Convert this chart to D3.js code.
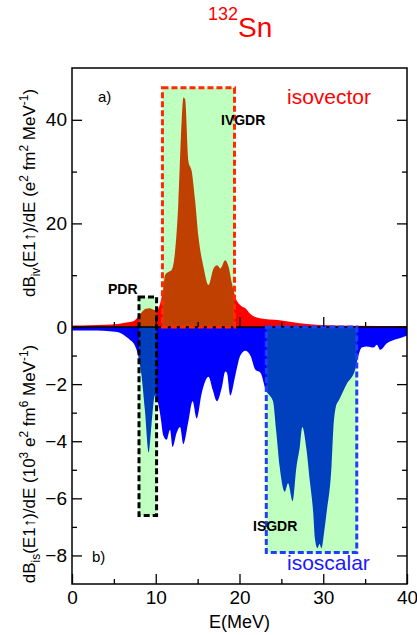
<!DOCTYPE html>
<html>
<head>
<meta charset="utf-8">
<script src="https://cdn.jsdelivr.net/npm/d3@7"></script>
<style>
  body { margin: 0; background: #fff; }
  svg { font-family: 'Liberation Sans', Arial, sans-serif; }
</style>
</head>
<body>
<svg width="417" height="635"></svg>
<script>
// isovector strength (panel a), e^2 fm^2 MeV^-1
const ivEnergy = [0, 2, 4, 5.5, 6.5, 7.3, 7.9, 8.3, 8.8, 9.3, 9.8, 10.2, 10.6, 10.9, 11.1, 11.5, 11.9,
  12.3, 12.7, 13.1, 13.3, 13.5, 13.9, 14.3, 14.7, 15.1, 15.7, 16.3, 16.9, 17.35, 17.7, 18.3, 18.7,
  19.1, 19.5, 20.1, 20.7, 21.3, 22.4, 24.8, 27.2, 29.6, 33.5, 40];
const ivStrength = [0.3, 0.35, 0.45, 0.6, 0.85, 1.1, 2.0, 2.8, 3.5, 3.6, 3.3, 3.4, 5.0, 7.5, 10, 10.6, 11,
  14.5, 24, 40, 44.3, 44, 32, 30, 24.4, 17.4, 11.6, 8.1, 11.3, 11.9, 11.3, 12.9, 11.6,
  8.4, 5.8, 4.2, 3.6, 2.5, 1.7, 1.3, 0.7, 0.4, 0.25, 0.2];

// isoscalar strength (panel b), 10^3 e^2 fm^6 MeV^-1
const isEnergy = [0, 3, 4.5, 5.7, 6.5, 6.9, 7.5, 7.9, 8.3, 8.7, 9.15, 9.5, 9.9, 10.3, 10.6, 10.9, 11.3,
  11.7, 12.0, 12.5, 12.9, 13.3, 13.9, 14.4, 14.9, 15.5, 16.3, 16.8, 17.3, 17.9, 18.3, 18.5, 18.9,
  19.5, 20.1, 20.7, 21.3, 21.9, 22.5, 23.2, 23.6, 24.0, 24.4, 24.8, 25.4, 25.8, 26.35, 26.8, 27.2,
  27.5, 28.0, 28.4, 28.8, 29.0, 29.3, 29.55, 29.8, 30.1, 30.4, 31.0, 31.2, 31.5, 31.9, 32.8, 33.8,
  34.2, 34.6, 35.2, 36.0, 36.4, 36.8, 37.6, 38.8, 39.8, 40];
const isStrength = [-0.12, -0.12, -0.15, -0.2, -0.35, -0.45, -0.65, -1.0, -1.7, -2.9, -4.4, -3.4, -2.4, -2.7, -3.2, -3.8, -3.95,
  -3.6, -4.2, -3.7, -3.5, -4.1, -3.3, -2.6, -3.2, -2.3, -1.74, -2.2, -2.6, -2.1, -1.56, -1.6, -2.4,
  -1.7, -1.0, -0.83, -1.0, -1.5, -1.6, -2.25, -2.4, -2.6, -3.7, -4.9, -5.77, -5.47, -6.1, -4.9, -4.2,
  -3.5, -4.3, -5.4, -6.5, -7.4, -7.75, -7.6, -7.75, -7.2, -6.5, -4.8, -3.6, -2.8, -2.55, -2.0, -1.5,
  -1.0, -0.72, -0.68, -0.72, -0.62, -0.8, -0.57, -0.42, -0.32, -0.3];

// highlighted resonance regions
const regionNames = ['PDR', 'IVGDR', 'ISGDR'];
const regionEmin = [8.0, 10.8, 23.2];
const regionEmax = [10.1, 19.4, 34.0];
const regionTop = [5.8, 46.2, 0];        // panel a units
const regionBottom = [-6.6, 0, -7.9];    // panel b units

const xTicks = [0, 10, 20, 30, 40];
const xMinor = [5, 15, 25, 35];
const ivTicks = [0, 20, 40];
const ivMinor = [10, 30];
const isTicks = [-2, -4, -6, -8];
const isMinor = [-1, -3, -5, -7];

const L = 72, R = 407, T = 68, Z = 327, B = 584;
const svg = d3.select('svg');

const x = d3.scaleLinear().domain([0, 40]).range([L, R]);
const yTop = d3.scaleLinear().domain([0, 50]).range([Z, T]);
const yBot = d3.scaleLinear().domain([-9, 0]).range([B, Z]);

const ivData = ivEnergy.map((e, i) => [e, ivStrength[i]]);
const isData = isEnergy.map((e, i) => [e, isStrength[i]]);

svg.append('path')
  .datum(ivData)
  .attr('fill', '#ff0000')
  .attr('d', d3.area().curve(d3.curveMonotoneX)
    .x(d => x(d[0])).y0(yTop(0)).y1(d => yTop(d[1])));

svg.append('path')
  .datum(isData)
  .attr('fill', '#0000ff')
  .attr('d', d3.area().curve(d3.curveMonotoneX)
    .x(d => x(d[0])).y0(yBot(0)).y1(d => yBot(d[1])));

// green highlight boxes (translucent, drawn over the curves)
const regionStroke = ['#000000', '#ff2a00', '#1f3fff'];
regionNames.forEach((n, i) => {
  svg.append('rect')
    .attr('x', x(regionEmin[i]))
    .attr('y', yTop(regionTop[i]))
    .attr('width', x(regionEmax[i]) - x(regionEmin[i]))
    .attr('height', yBot(regionBottom[i]) - yTop(regionTop[i]))
    .attr('fill', '#00ff00')
    .attr('fill-opacity', 0.25);
});

// zero line
svg.append('line')
  .attr('x1', L).attr('x2', R).attr('y1', Z).attr('y2', Z)
  .attr('stroke', '#000').attr('stroke-width', 1.5);

regionNames.forEach((n, i) => {
  svg.append('rect')
    .attr('x', x(regionEmin[i]))
    .attr('y', yTop(regionTop[i]))
    .attr('width', x(regionEmax[i]) - x(regionEmin[i]))
    .attr('height', yBot(regionBottom[i]) - yTop(regionTop[i]))
    .attr('fill', 'none')
    .attr('stroke', regionStroke[i])
    .attr('stroke-width', 3)
    .attr('stroke-dasharray', '6,3');
});

// frame
svg.append('rect')
  .attr('x', L).attr('y', T).attr('width', R - L).attr('height', B - T)
  .attr('fill', 'none').attr('stroke', '#000').attr('stroke-width', 1.5);

const tickFont = 19;
function styleAxis(g) {
  g.select('.domain').remove();
  g.selectAll('line').attr('stroke', '#000').attr('stroke-width', 1.3);
  g.selectAll('text').attr('font-size', tickFont).attr('fill', '#000')
    .attr('font-family', "'Liberation Sans', Arial, sans-serif");
}

// x axes: bottom (labelled) and top-panel baseline
svg.append('g').attr('transform', `translate(0,${B})`)
  .call(d3.axisBottom(x).tickValues(xTicks).tickSize(-10).tickPadding(7).tickFormat(d3.format('d')))
  .call(styleAxis);
svg.append('g').attr('transform', `translate(0,${B})`)
  .call(d3.axisBottom(x).tickValues(xMinor).tickSize(-5).tickFormat(''))
  .call(styleAxis);
svg.append('g').attr('transform', `translate(0,${Z})`)
  .call(d3.axisBottom(x).tickValues(xTicks.slice(1, -1)).tickSize(-10).tickFormat(''))
  .call(styleAxis);
svg.append('g').attr('transform', `translate(0,${Z})`)
  .call(d3.axisBottom(x).tickValues(xMinor).tickSize(-5).tickFormat(''))
  .call(styleAxis);

// y axes left
svg.append('g').attr('transform', `translate(${L},0)`)
  .call(d3.axisLeft(yTop).tickValues(ivTicks).tickSize(-10).tickPadding(5).tickFormat(d3.format('d')))
  .call(styleAxis);
svg.append('g').attr('transform', `translate(${L},0)`)
  .call(d3.axisLeft(yTop).tickValues(ivMinor).tickSize(-5).tickFormat(''))
  .call(styleAxis);
svg.append('g').attr('transform', `translate(${L},0)`)
  .call(d3.axisLeft(yBot).tickValues(isTicks).tickSize(-10).tickPadding(5).tickFormat(d3.format('d')))
  .call(styleAxis);
svg.append('g').attr('transform', `translate(${L},0)`)
  .call(d3.axisLeft(yBot).tickValues(isMinor).tickSize(-5).tickFormat(''))
  .call(styleAxis);

// y axes right (mirror ticks)
svg.append('g').attr('transform', `translate(${R},0)`)
  .call(d3.axisRight(yTop).tickValues(ivTicks).tickSize(-10).tickFormat(''))
  .call(styleAxis);
svg.append('g').attr('transform', `translate(${R},0)`)
  .call(d3.axisRight(yTop).tickValues(ivMinor).tickSize(-5).tickFormat(''))
  .call(styleAxis);
svg.append('g').attr('transform', `translate(${R},0)`)
  .call(d3.axisRight(yBot).tickValues(isTicks).tickSize(-10).tickFormat(''))
  .call(styleAxis);
svg.append('g').attr('transform', `translate(${R},0)`)
  .call(d3.axisRight(yBot).tickValues(isMinor).tickSize(-5).tickFormat(''))
  .call(styleAxis);

// text with sub/superscripts
function richText(sel, parts, size) {
  let shift = 0;
  parts.forEach(p => {
    const target = p[1] === 'sup' ? -size * 0.4 : p[1] === 'sub' ? size * 0.3 : 0;
    const ts = sel.append('tspan').text(p[0]).attr('dy', target - shift);
    if (p[1]) ts.attr('font-size', size * 0.7);
    shift = target;
  });
}

// title
const title = svg.append('text').attr('x', 208).attr('y', 37)
  .attr('fill', '#ff0000').attr('font-size', 28);
title.append('tspan').text('132').attr('font-size', 18).attr('dy', -17);
title.append('tspan').text('Sn').attr('dy', 17);

// y axis titles
const ylab1 = svg.append('text')
  .attr('transform', 'translate(35,193) rotate(-90)')
  .attr('text-anchor', 'middle').attr('font-size', 17).attr('fill', '#000');
richText(ylab1, [['dB'], ['iv', 'sub'], ['(E1\u2191)/dE (e'], ['2', 'sup'], [' fm'], ['2', 'sup'],
  [' MeV'], ['-1', 'sup'], [')']], 17);

const ylab2 = svg.append('text')
  .attr('transform', 'translate(35,464) rotate(-90)')
  .attr('text-anchor', 'middle').attr('font-size', 17).attr('fill', '#000');
richText(ylab2, [['dB'], ['is', 'sub'], ['(E1\u2191)/dE (10'], ['3', 'sup'], [' e'], ['2', 'sup'],
  [' fm'], ['6', 'sup'], [' MeV'], ['-1', 'sup'], [')']], 17);

// x axis title
svg.append('text').attr('x', x(20)).attr('y', 628)
  .attr('text-anchor', 'middle').attr('font-size', 18).text('E(MeV)');

// panel labels and annotations
svg.append('text').attr('x', 98).attr('y', 102).attr('font-size', 15).text('a)');
svg.append('text').attr('x', 92).attr('y', 562).attr('font-size', 15).text('b)');
svg.append('text').attr('x', 287).attr('y', 104).attr('font-size', 21)
  .attr('fill', '#ff0000').text('isovector');
svg.append('text').attr('x', 287).attr('y', 570).attr('font-size', 21)
  .attr('fill', '#1a1aff').text('isoscalar');

const labelPos = [[108, 294], [221, 125], [253, 531]];
regionNames.forEach((n, i) => {
  svg.append('text').attr('x', labelPos[i][0]).attr('y', labelPos[i][1])
    .attr('font-size', 14).attr('font-weight', 'bold').text(n);
});
</script>
</body>
</html>
